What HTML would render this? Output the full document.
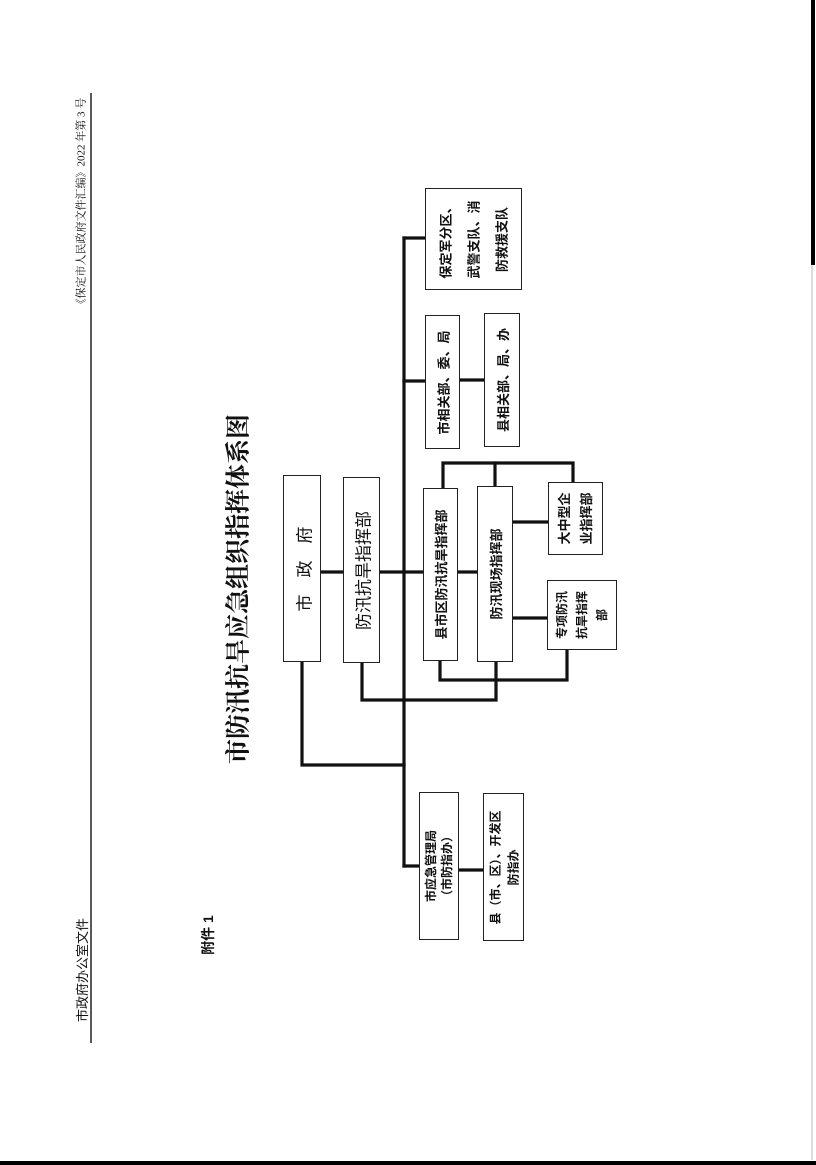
<!DOCTYPE html>
<html><head><meta charset="utf-8">
<style>
html,body{margin:0;padding:0;background:#fff;}
body{width:816px;height:1165px;position:relative;overflow:hidden;font-family:"Liberation Sans","Noto Sans CJK SC",sans-serif;color:#111;}
.b{position:absolute;border:1.5px solid #222;box-sizing:border-box;background:#fff;}
.r{position:absolute;transform:rotate(-90deg);transform-origin:center;display:flex;flex-direction:column;justify-content:center;align-items:center;text-align:center;white-space:nowrap;font-weight:bold;}
.t{position:absolute;transform:rotate(-90deg);transform-origin:center;white-space:nowrap;text-align:center;}
</style></head><body>
<svg width="816" height="1165" style="position:absolute;left:0;top:0">
<g stroke="#111" stroke-width="3.2" fill="none" stroke-linecap="square">
<line x1="404" y1="238" x2="404" y2="866"/>
<line x1="404" y1="238" x2="425" y2="238"/>
<line x1="404" y1="381" x2="425" y2="381"/>
<line x1="460" y1="380" x2="484" y2="380"/>
<line x1="321" y1="572" x2="343" y2="572"/>
<line x1="380" y1="572" x2="423" y2="572"/>
<line x1="458" y1="572" x2="477" y2="572"/>
<line x1="513" y1="522" x2="548" y2="522"/>
<line x1="513" y1="618" x2="547" y2="618"/>
<polyline points="443,488 443,463 573,463 573,482"/>
<line x1="495" y1="463" x2="495" y2="486"/>
<polyline points="440,661 440,680 567,680 567,650"/>
<polyline points="362,663 362,700 496,700 496,662"/>
<polyline points="302,662 302,765 404,765"/>
<line x1="404" y1="866" x2="419" y2="866"/>
<line x1="459" y1="870" x2="483" y2="870"/>
</g>
<line x1="91" y1="93" x2="91" y2="1043" stroke="#222" stroke-width="1.5"/>
<rect x="811" y="0" width="4" height="265" fill="#000"/>
<line x1="812" y1="265" x2="812" y2="1160" stroke="#bbb" stroke-width="1"/>
<rect x="0" y="1161" width="816" height="4" fill="#000"/>
</svg>

<div class="b" style="left:283px;top:475px;width:38px;height:187px"></div>
<div class="r" style="left:208.5px;top:549.5px;width:187px;height:38px;font-size:17px;font-weight:normal">市　政　府</div>

<div class="b" style="left:343px;top:477px;width:37px;height:186px"></div>
<div class="r" style="left:268.5px;top:551.5px;width:186px;height:37px;font-size:17px;font-weight:normal">防汛抗旱指挥部</div>

<div class="b" style="left:423px;top:488px;width:35px;height:173px"></div>
<div class="r" style="left:354px;top:557px;width:173px;height:35px;font-size:13px">县市区防汛抗旱指挥部</div>

<div class="b" style="left:477px;top:486px;width:36px;height:176px"></div>
<div class="r" style="left:407px;top:556px;width:176px;height:36px;font-size:13px">防汛现场指挥部</div>

<div class="b" style="left:548px;top:482px;width:55px;height:73px"></div>
<div class="r" style="left:539px;top:491px;width:73px;height:55px;font-size:13px;line-height:22px"><div>大中型企</div><div>业指挥部</div></div>

<div class="b" style="left:547px;top:580px;width:70px;height:70px"></div>
<div class="r" style="left:547px;top:580px;width:70px;height:70px;font-size:12px;line-height:20px"><div>专项防汛</div><div>抗旱指挥</div><div>部</div></div>

<div class="b" style="left:419px;top:792px;width:40px;height:148px"></div>
<div class="r" style="left:365px;top:846px;width:148px;height:40px;font-size:12px;line-height:16px"><div>市应急管理局</div><div>（市防指办）</div></div>

<div class="b" style="left:483px;top:793px;width:41px;height:148px"></div>
<div class="r" style="left:429.5px;top:846.5px;width:148px;height:41px;font-size:12px;line-height:18px"><div>县（市、区）、开发区</div><div>防指办</div></div>

<div class="b" style="left:425px;top:188px;width:97px;height:102px"></div>
<div class="r" style="left:422.5px;top:190.5px;width:102px;height:97px;font-size:13px;line-height:28px"><div>保定军分区、</div><div>武警支队、消</div><div>防救援支队</div></div>

<div class="b" style="left:425px;top:315px;width:35px;height:134px"></div>
<div class="r" style="left:375.5px;top:364.5px;width:134px;height:35px;font-size:13px">市相关部、委、局</div>

<div class="b" style="left:484px;top:313px;width:36px;height:134px"></div>
<div class="r" style="left:435px;top:362px;width:134px;height:36px;font-size:13px">县相关部、局、办</div>

<div class="t" style="left:57px;top:575px;width:365px;height:28px;line-height:28px;font-size:25px;font-weight:bold;font-family:'Liberation Serif','Noto Serif CJK SC',serif">市防汛抗旱应急组织指挥体系图</div>
<div class="t" style="left:183px;top:928px;width:50px;height:14px;line-height:14px;font-size:14px;font-weight:bold">附件 1</div>
<div class="t" style="left:-22px;top:963px;width:210px;height:14px;line-height:14px;font-size:13px">市政府办公室文件</div>
<div class="t" style="left:-23px;top:198px;width:210px;height:13px;line-height:13px;font-size:11px;font-family:'Liberation Serif','Noto Serif CJK SC',serif">《保定市人民政府文件汇编》2022 年第 3 号</div>
</body></html>
